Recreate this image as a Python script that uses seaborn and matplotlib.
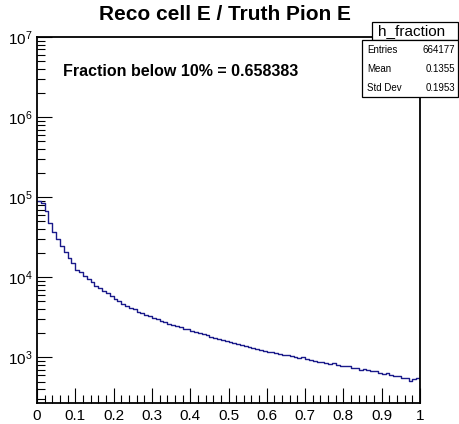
import numpy as np
import pandas as pd
import matplotlib
matplotlib.use("Agg")
import matplotlib.pyplot as plt
import seaborn as sns
from matplotlib.patches import Rectangle
from matplotlib.ticker import MultipleLocator, LogLocator, LogFormatterMathtext, NullFormatter

# Reco cell energy / truth pion energy, 100 bins on [0, 1]
n_bins = 100
bin_edges = np.linspace(0.0, 1.0, n_bins + 1)
bin_centers = 0.5 * (bin_edges[:-1] + bin_edges[1:])

counts_0_10 = [90000, 85000, 68000, 48000, 37000, 30000, 24500, 20500, 17500, 15000]
counts_10_30 = [12500, 11600, 10300, 9600, 8650, 7900, 7400, 6750, 6350, 5850,
                5350, 5000, 4650, 4400, 4150, 3980, 3720, 3600, 3400, 3260]
counts_30_60 = [3090, 3010, 2870, 2780, 2620, 2570, 2450, 2390, 2280, 2250,
                2150, 2100, 2000, 1990, 1890, 1800, 1740, 1700, 1650, 1600,
                1560, 1520, 1480, 1440, 1400, 1360, 1320, 1290, 1250, 1220]
counts_60_100 = [1180, 1160, 1150, 1100, 1070, 1080, 1030, 1000, 990, 1000,
                 950, 930, 910, 880, 890, 850, 830, 845, 800, 790,
                 775, 790, 740, 730, 705, 720, 690, 670, 680, 640,
                 620, 635, 600, 595, 585, 560, 555, 515, 545, 550]
counts = np.array(counts_0_10 + counts_10_30 + counts_30_60 + counts_60_100, dtype=float)

title = "Reco cell E / Truth Pion E"
hist_name = "h_fraction"
stat_labels = ["Entries", "Mean", "Std Dev"]
stat_values = ["664177", "0.1355", "0.1953"]
annotation = "Fraction below 10% = 0.658383"
x_ticks = [0, 0.1, 0.2, 0.3, 0.4, 0.5, 0.6, 0.7, 0.8, 0.9, 1]
x_tick_labels = ["0", "0.1", "0.2", "0.3", "0.4", "0.5", "0.6", "0.7", "0.8", "0.9", "1"]

df = pd.DataFrame({"fraction": bin_centers, "count": counts})

sns.set_style("white")
plt.rcParams["font.family"] = ["Liberation Sans", "DejaVu Sans"]
plt.rcParams["mathtext.fontset"] = "custom"
plt.rcParams["mathtext.rm"] = "Liberation Sans"
plt.rcParams["text.color"] = "black"
plt.rcParams["xtick.color"] = "black"
plt.rcParams["ytick.color"] = "black"

W, H = 459, 424
fig = plt.figure(figsize=(W / 100, H / 100), dpi=100)
ax = fig.add_axes([37 / W, 1 - 403 / H, (420 - 37) / W, (403 - 37) / H])

sns.histplot(data=df, x="fraction", weights="count", bins=n_bins, binrange=(0.0, 1.0),
             element="step", fill=False, color="#1a1a8a", linewidth=1.0, ax=ax)

ax.set_yscale("log")
ax.set_xlim(0, 1)
ax.set_ylim(270, 1e7)
ax.set_xlabel("")
ax.set_ylabel("")

ax.set_xticks(x_ticks)
ax.set_xticklabels(x_tick_labels)
ax.xaxis.set_minor_locator(MultipleLocator(0.02))
ax.yaxis.set_major_locator(LogLocator(base=10, numticks=20))
ax.yaxis.set_major_formatter(LogFormatterMathtext())
ax.yaxis.set_minor_locator(LogLocator(base=10, subs=np.arange(2, 10), numticks=50))
ax.yaxis.set_minor_formatter(NullFormatter())

ax.tick_params(axis="both", which="major", direction="in", length=11, width=0.8,
               labelsize=11, colors="black", bottom=True, left=True,
               top=False, right=False)
ax.tick_params(axis="both", which="minor", direction="in", length=5.5, width=0.8,
               color="black", bottom=True, left=True, top=False, right=False)
ax.tick_params(axis="x", which="major", pad=4)
ax.tick_params(axis="y", which="major", pad=3)

for side in ["left", "bottom", "right", "top"]:
    ax.spines[side].set_visible(True)
    ax.spines[side].set_color("black")
    ax.spines[side].set_linewidth(1.3)

fig.text(225 / W, 1 - 15 / H, title, ha="center", va="center",
         fontsize=15, fontweight="bold", color="black")

ax.text(63 / W, 1 - 71 / H, annotation, transform=fig.transFigure,
        ha="left", va="center", fontsize=11.5, fontweight="bold", color="black")

# statistics box
fig.patches.append(Rectangle((372 / W, 1 - 40 / H), (458 - 372) / W, 18 / H,
                             transform=fig.transFigure, facecolor="white",
                             edgecolor="black", linewidth=0.9, zorder=5))
fig.patches.append(Rectangle((362 / W, 1 - 97 / H), (458 - 362) / W, (97 - 40) / H,
                             transform=fig.transFigure, facecolor="white",
                             edgecolor="black", linewidth=0.9, zorder=5))
fig.text(412 / W, 1 - 31 / H, hist_name, ha="center", va="center", fontsize=11,
         color="black", zorder=6)
row_y = [50, 69, 88]
for lab, val, yy in zip(stat_labels, stat_values, row_y):
    fig.text(367 / W, 1 - yy / H, lab, ha="left", va="center", fontsize=7,
             color="black", zorder=6)
    fig.text(455 / W, 1 - yy / H, val, ha="right", va="center", fontsize=7,
             color="black", zorder=6)

fig.savefig("out.png", dpi=100, facecolor="white")
